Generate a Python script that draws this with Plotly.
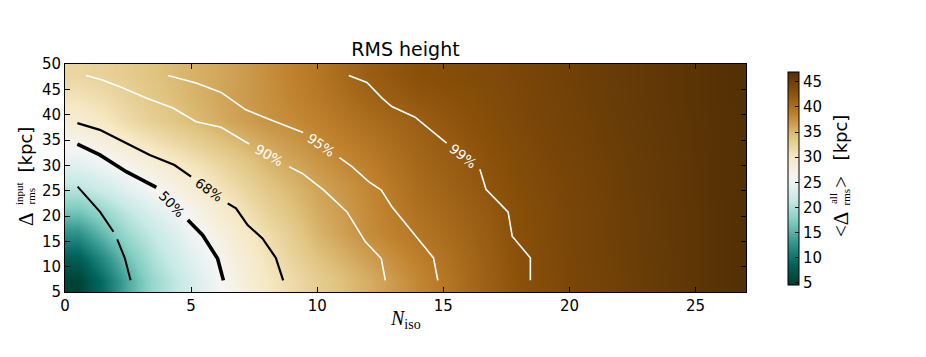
import math
import plotly.graph_objects as go

# grid centres of the mean RMS map (N_iso, input RMS)
x_nodes = [0.5, 1.5, 2.5, 3.5, 5, 6.5, 8, 10, 12, 14, 16, 18, 20, 23, 26.5]
y_nodes = [7.25, 11.75, 16.25, 20.75, 25.25, 29.75, 34.25, 38.75, 43.25, 47.75]

# <Delta_rms^all> [kpc], one row per y node (bottom to top)
rms_all = [
    [5.0, 9.3, 14.5, 18.7, 22.7, 26.5, 29.9, 33.0, 35.5, 38.0, 40.5, 42.7, 44.0, 45.3, 46.9],
    [8.0, 12.0, 16.5, 20.0, 23.8, 27.3, 30.5, 34.0, 36.5, 38.6, 40.7, 42.8, 44.05, 45.35, 46.9],
    [12.1, 15.5, 18.9, 21.3, 24.9, 28.2, 31.2, 35.0, 37.6, 39.3, 41.0, 42.9, 44.1, 45.4, 46.9],
    [16.5, 18.5, 21.0, 23.3, 26.3, 29.5, 32.5, 35.6, 37.8, 39.8, 41.3, 43.0, 44.1, 45.4, 46.9],
    [20.5, 22.0, 24.0, 25.8, 28.3, 31.0, 33.6, 36.1, 38.0, 40.2, 41.7, 43.2, 44.2, 45.5, 46.9],
    [23.5, 24.8, 26.3, 27.8, 30.0, 32.4, 34.8, 36.9, 38.6, 40.6, 42.0, 43.4, 44.3, 45.5, 46.9],
    [26.3, 27.5, 29.0, 30.5, 32.4, 34.3, 36.0, 37.7, 39.3, 41.0, 42.3, 43.6, 44.5, 45.6, 46.9],
    [28.5, 29.8, 31.5, 32.8, 34.5, 36.0, 37.2, 38.4, 40.1, 41.4, 42.7, 43.8, 44.6, 45.7, 46.9],
    [30.5, 31.3, 32.5, 33.6, 35.0, 36.3, 37.4, 39.0, 40.9, 42.2, 43.0, 43.9, 44.7, 45.8, 46.9],
    [32.0, 32.5, 33.2, 34.0, 35.2, 36.2, 37.5, 39.3, 41.5, 42.8, 43.4, 44.0, 44.8, 45.8, 46.9],
]

# contour paths (None = break where the label sits)
inner_x = [0.5, 1.39, 1.92, None, 2.07, 2.37, 2.6]
inner_y = [25.8, 20.8, 16.9, None, 15.4, 11.7, 7.3]
c50_x = [0.49, 1.38, 2.43, 3.62, None, 4.87, 5.46, 6.05, 6.28]
c50_y = [34.2, 32.05, 28.75, 25.66, None, 19.19, 16.2, 11.6, 7.3]
c68_x = [0.49, 1.38, 2.30, 3.36, 4.34, 5.0, None, 6.45, 6.78, 7.24, 7.83, 8.36, 8.65]
c68_y = [38.33, 37.0, 34.69, 32.05, 30.07, 27.76, None, 22.5, 21.5, 18.2, 15.57, 11.73, 7.3]
c90_x = [0.83, 1.45, 2.30, 3.22, 4.28, 5.2, 6.19, 7.30, None, 8.88, 9.41, 10.26, 11.18, 11.91, 12.54, 12.7]
c90_y = [47.75, 46.9, 45.25, 43.27, 41.3, 38.6, 37.5, 34.2, None, 29.74, 28.4, 25.1, 20.8, 14.9, 11.6, 7.3]
c95_x = [4.08, 5.2, 6.19, 7.17, 8.22, 9.01, 9.44, None, 10.88, 11.38, 12.04, 12.54, 12.96, 13.82, 14.61, 14.78]
c95_y = [47.75, 46.24, 44.38, 40.95, 38.84, 37.33, 36.47, None, 31.52, 29.74, 26.77, 25.13, 21.82, 16.56, 11.73, 7.3]
c99_x = [11.25, 11.97, 12.57, 12.96, 13.88, 15.13, None, 16.45, 16.69, 17.57, 17.73, 18.45, 18.45]
c99_y = [47.75, 46.37, 43.27, 41.6, 39.5, 34.37, None, 29.22, 25.27, 20.77, 16.02, 11.73, 7.3]

brbg_r = ["#003c30", "#01665e", "#35978f", "#80cdc1", "#c7eae5", "#f5f5f5",
          "#f6e8c3", "#dfc27d", "#bf812d", "#8c510a", "#543005"]
cscale = [[i / 10, c] for i, c in enumerate(brbg_r)]

# page body has an 8px margin, so the figure is drawn 8px smaller
W, H = 918, 349
L, T, PW, PH = 57, 56, 681, 228
R, B = W - L - PW, H - T - PH
px_x = PW / 27.0
px_y = PH / 45.0

fig = go.Figure()
fig.add_trace(go.Heatmap(
    x=x_nodes, y=y_nodes, z=rms_all, zsmooth="best",
    colorscale=cscale, zmin=4.5, zmax=46.9, hoverinfo="skip",
    colorbar=dict(x=1.062, xanchor="left", xpad=0, ypad=0, y=0.4965, yanchor="middle",
                  len=0.934, thickness=11, outlinecolor="black", outlinewidth=1,
                  ticks="inside", ticklen=4, tickcolor="black",
                  tickvals=[5, 10, 15, 20, 25, 30, 35, 40, 45],
                  tickfont=dict(family="DejaVu Sans", size=15, color="black")),
))

contours = [
    (inner_x, inner_y, None, "black", 2.0),
    (c50_x, c50_y, "50%", "black", 3.6),
    (c68_x, c68_y, "68%", "black", 2.2),
    (c90_x, c90_y, "90%", "white", 1.6),
    (c95_x, c95_y, "95%", "white", 1.6),
    (c99_x, c99_y, "99%", "white", 1.6),
]
for cx, cy, lab, col, lw in contours:
    fig.add_trace(go.Scatter(x=cx, y=cy, mode="lines", hoverinfo="skip",
                             line=dict(color=col, width=lw), showlegend=False))
    if lab:
        k = cx.index(None)
        x0, y0, x1, y1 = cx[k - 1], cy[k - 1], cx[k + 1], cy[k + 1]
        ang = math.degrees(math.atan2((y0 - y1) * px_y, (x1 - x0) * px_x))
        fig.add_annotation(x=(x0 + x1) / 2, y=(y0 + y1) / 2, text=lab, showarrow=False,
                           xanchor="center", yanchor="middle", textangle=ang,
                           font=dict(family="DejaVu Sans", size=13.5, color=col))


def label(text, x, y, size, family="Liberation Serif", angle=-90, yanchor="middle"):
    fig.add_annotation(xref="paper", yref="paper", x=x, y=y, showarrow=False,
                       xanchor="center", yanchor=yanchor, textangle=angle, text=text,
                       font=dict(family=family, size=size, color="black"))


# x axis title
label("<i>N</i><sub>iso</sub>", 0.5007, -0.184, 20, angle=0, yanchor="bottom")
# y axis title: Delta_rms^input [kpc]
label("[kpc]", -0.058, 0.623, 18, family="DejaVu Sans")
label("Δ", -0.0565, 0.318, 21)
label("input", -0.0675, 0.430, 11)
label("rms", -0.0499, 0.419, 11)
# colorbar title: <Delta_rms^all> [kpc]
label("[kpc]", 1.138, 0.678, 18, family="DejaVu Sans")
label("&lt;Δ", 1.1388, 0.296, 21)
label("&gt;", 1.1395, 0.484, 21)
label("all", 1.1277, 0.412, 11)
label("rms", 1.1461, 0.417, 11)

axis = dict(showgrid=False, zeroline=False, showline=True, linecolor="black", linewidth=1,
            mirror="allticks", ticks="inside", ticklen=5, tickcolor="black",
            tickfont=dict(family="DejaVu Sans", size=15, color="black"))
fig.update_xaxes(range=[0, 27], tickvals=[0, 5, 10, 15, 20, 25], **axis)
fig.update_yaxes(range=[5, 50], tickvals=list(range(5, 51, 5)), **axis)

fig.update_layout(
    width=W, height=H, margin=dict(l=L, r=R, t=T, b=B),
    paper_bgcolor="white", plot_bgcolor="white",
    title=dict(text="RMS height", x=0.5, xref="paper", y=1 - 41 / H, yanchor="middle",
               font=dict(family="DejaVu Sans", size=19, color="black")),
)

fig.write_html("out.html")
